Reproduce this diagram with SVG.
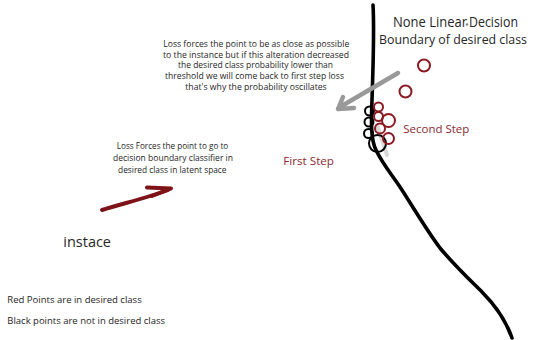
<svg xmlns="http://www.w3.org/2000/svg" width="533" height="340" viewBox="0 0 533 340">
<style>
text{font-family:"Open Sans","Noto Sans","Liberation Sans",sans-serif;fill:#262626}
.sm{font-size:8.6px}
.md{font-size:9.2px}
.lg{font-size:14px}
.bl{font-size:12.8px}
.step{font-size:11px;fill:#8c2a2f}
.leg{font-size:9.6px}
.red{fill:none;stroke:#8b1a22;stroke-width:2}
.blk{fill:none;stroke:#000;stroke-width:2}
</style>
<rect width="533" height="340" fill="#fff"/>
<g id="connectors">
<path d="M373,5 C374.5,30 373,70 372,100 C371,125 371,140 376,150 C382,163 392,175 400,187 C410,202 425,228 440,248 C455,266 470,280 482,292 C495,305 505,318 512,338" fill="none" stroke="#000" stroke-width="3.6" stroke-linecap="round" stroke-linejoin="round"/>
<line x1="377" y1="125" x2="387" y2="155" stroke="#d9d9d9" stroke-width="4" stroke-linecap="round"/>
<g id="gray-arrow" stroke="#999" stroke-width="4.5" fill="none" stroke-linecap="round" stroke-linejoin="round">
<line x1="398" y1="73" x2="340" y2="107"/>
<polyline points="343,97 338,109 354,108"/>
</g>
<g id="red-arrow" stroke="#7d1318" stroke-width="4" fill="none" stroke-linecap="round" stroke-linejoin="round">
<path d="M102,210 C125,203 150,197 168,190"/>
<polyline points="147,187.5 171,188.5 152,196"/>
</g>
</g>
<g id="black-points">
<circle class="blk" cx="369.5" cy="111" r="4.5"/>
<circle class="blk" cx="369" cy="122" r="4.5"/>
<circle class="blk" cx="368.5" cy="133.5" r="4.5"/>
<circle class="blk" cx="377.5" cy="143.5" r="8.5"/>
</g>
<g id="red-points">
<circle class="red" cx="424" cy="65.5" r="6"/>
<circle class="red" cx="405.5" cy="91.5" r="6"/>
<circle class="red" cx="378.5" cy="107" r="4.5"/>
<circle class="red" cx="378.5" cy="116.5" r="4.5"/>
<circle class="red" cx="388.5" cy="120.5" r="6.5"/>
<circle class="red" cx="380" cy="128.5" r="5"/>
<circle class="red" cx="388.5" cy="138.5" r="5.5"/>
</g>
<g id="boundary-label">
<text class="lg" x="393" y="26.7" textLength="74" lengthAdjust="spacingAndGlyphs">None Linear</text>
<circle cx="467" cy="24.5" r="1.3" fill="#888"/>
<text class="lg" x="469" y="26.7" textLength="49" lengthAdjust="spacingAndGlyphs">Decision</text>
<text class="bl" x="379" y="44.3" textLength="148" lengthAdjust="spacingAndGlyphs">Boundary of desired class</text>
</g>
<g id="note-top" text-anchor="middle">
<text class="sm" x="256.3" y="46.7" textLength="186" lengthAdjust="spacingAndGlyphs">Loss forces the point to be as close as possible</text>
<text class="sm" x="256" y="57.5" textLength="186" lengthAdjust="spacingAndGlyphs">to the instance but if this alteration decreased</text>
<text class="sm" x="255.5" y="68.3" textLength="155" lengthAdjust="spacingAndGlyphs">the desired class probability lower than</text>
<text class="sm" x="254.5" y="79.1" textLength="179" lengthAdjust="spacingAndGlyphs">threshold we will come back to first step loss</text>
<text class="sm" x="256" y="89.9" textLength="141.5" lengthAdjust="spacingAndGlyphs">that's why the probability oscillates</text>
</g>
<g id="note-mid" text-anchor="middle">
<text class="md" x="172.5" y="149" textLength="111.5" lengthAdjust="spacingAndGlyphs">Loss Forces the point to go to</text>
<text class="md" x="173" y="160.8" textLength="120" lengthAdjust="spacingAndGlyphs">decision boundary classifier in</text>
<text class="md" x="172.3" y="172.6" textLength="108.5" lengthAdjust="spacingAndGlyphs">desired class in latent space</text>
</g>
<g id="first-step"><text class="step" x="283.3" y="165" textLength="50.7" lengthAdjust="spacingAndGlyphs">First Step</text></g>
<g id="second-step"><text class="step" x="403.3" y="133.3" textLength="66" lengthAdjust="spacingAndGlyphs">Second Step</text></g>
<g id="instance"><text class="lg" x="63.3" y="246.7" textLength="47.7" lengthAdjust="spacingAndGlyphs">instace</text></g>
<g id="legend">
<text class="leg" x="7.3" y="303.3" textLength="134.4" lengthAdjust="spacingAndGlyphs">Red Points are in desired class</text>
<text class="leg" x="7.3" y="324" textLength="157.7" lengthAdjust="spacingAndGlyphs">Black points are not in desired class</text>
</g>
</svg>
